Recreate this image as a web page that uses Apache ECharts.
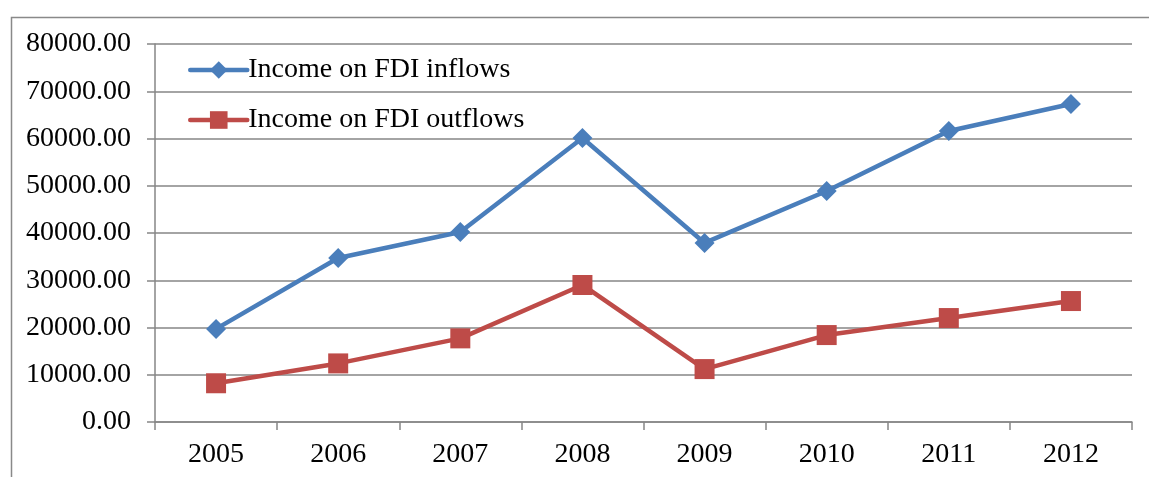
<!DOCTYPE html>
<html><head><meta charset="utf-8">
<script src="https://cdn.jsdelivr.net/npm/echarts@6/dist/echarts.min.js"></script>
<style>html,body{margin:0;padding:0;background:#fff}#c{width:1149px;height:477px}</style>
</head><body><div id="c"></div>
<script>
const years = ['2005','2006','2007','2008','2009','2010','2011','2012'];
const inflows = [19700, 34700, 40200, 60100, 37900, 48900, 61600, 67300];
const outflows = [8200, 12400, 17700, 29000, 11200, 18400, 22000, 25600];
const seriesNames = ['Income on FDI inflows', 'Income on FDI outflows'];
const yMin = 0, yMax = 80000, yStep = 10000;

const FONT = "'Liberation Serif','Times New Roman',serif";
const chart = echarts.init(document.getElementById('c'), null, {renderer: 'canvas'});
chart.setOption({
  animation: false,
  backgroundColor: '#fff',
  graphic: [{
    type: 'rect', left: 9, top: 15, silent: true,
    shape: {width: 1200, height: 500},
    style: {fill: 'none', stroke: '#898989', lineWidth: 1.5}
  }],
  grid: {left: 155, right: 17, top: 44, bottom: 55, containLabel: false},
  legend: {
    orient: 'vertical', left: 183, top: 51,
    itemWidth: 57, itemHeight: 22, itemGap: 22,
    lineStyle: {width: 4.5, cap: 'round'},
    textStyle: {fontFamily: FONT, fontSize: 28, color: '#000', lineHeight: 28, padding: [0,0,0,-4]},
    data: seriesNames
  },
  xAxis: {
    type: 'category', data: years, boundaryGap: true,
    axisLine: {lineStyle: {color: '#868686', width: 1.5}},
    axisTick: {show: true, length: 8, lineStyle: {color: '#868686', width: 1.5}},
    axisLabel: {fontFamily: FONT, fontSize: 28, color: '#000', margin: 19},
    splitLine: {show: false}
  },
  yAxis: {
    type: 'value', min: yMin, max: yMax, interval: yStep,
    axisLine: {show: true, lineStyle: {color: '#868686', width: 1.5}},
    axisTick: {show: true, length: 8, lineStyle: {color: '#868686', width: 1.5}},
    axisLabel: {fontFamily: FONT, fontSize: 28, color: '#000', margin: 24,
      formatter: v => v.toFixed(2)},
    splitLine: {show: true, lineStyle: {color: '#868686', width: 1.5}}
  },
  series: [{
    name: seriesNames[0], type: 'line', data: inflows,
    symbol: 'diamond', symbolSize: 20, showAllSymbol: true,
    itemStyle: {color: '#4A7EBB'},
    lineStyle: {color: '#4A7EBB', width: 4.5}
  }, {
    name: seriesNames[1], type: 'line', data: outflows,
    symbol: 'rect', symbolSize: 20, showAllSymbol: true,
    itemStyle: {color: '#BE4B48'},
    lineStyle: {color: '#BE4B48', width: 4.5}
  }]
});
</script></body></html>
